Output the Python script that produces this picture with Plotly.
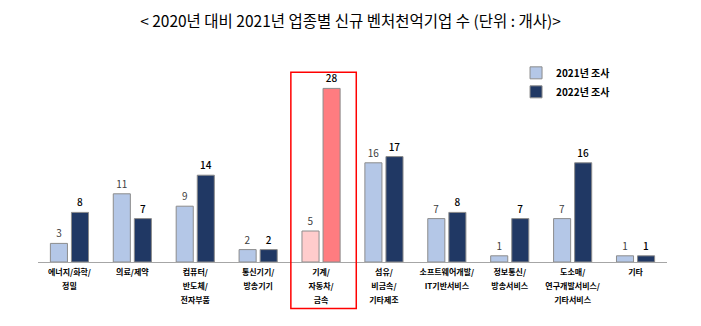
import plotly.graph_objects as go

categories = [
    "에너지/화학/<br>정밀",
    "의료/제약",
    "컴퓨터/<br>반도체/<br>전자부품",
    "통신기기/<br>방송기기",
    "기계/<br>자동차/<br>금속",
    "섬유/<br>비금속/<br>기타제조",
    "소프트웨어개발/<br>IT기반서비스",
    "정보통신/<br>방송서비스",
    "도소매/<br>연구개발서비스/<br>기타서비스",
    "기타",
]
series_2021 = [3, 11, 9, 2, 5, 16, 7, 1, 7, 1]
series_2022 = [8, 7, 14, 2, 28, 17, 8, 7, 16, 1]
highlight_index = 4

c21, c22 = "#B4C7E7", "#203864"
h21, h22 = "#FFCCCC", "#FF7C80"
colors21 = [h21 if i == highlight_index else c21 for i in range(len(categories))]
colors22 = [h22 if i == highlight_index else c22 for i in range(len(categories))]

FONT = "Noto Sans CJK KR"
xs = list(range(len(categories)))

def small(label):
    return "<br>".join(
        f"<span style='font-size:8px;font-weight:bold'>{part}</span>"
        for part in label.split("<br>")
    )

ticktext = [small(c) for c in categories]

fig = go.Figure()
fig.add_trace(go.Bar(
    x=xs, y=series_2021, name="2021년 조사",
    marker=dict(color=colors21, line=dict(color="#8C8C8C", width=1)),
    text=series_2021, textposition="outside", cliponaxis=False,
    textfont=dict(size=10, color="#404040", family=FONT),
))
fig.add_trace(go.Bar(
    x=xs, y=series_2022, name="2022년 조사",
    marker=dict(color=colors22, line=dict(color="#8C8C8C", width=1)),
    text=series_2022, textposition="outside", cliponaxis=False,
    textfont=dict(size=10, color="#000000", family=FONT, weight=500),
))

fig.add_shape(type="rect", xref="x", yref="paper",
              x0=highlight_index - 0.48, x1=highlight_index + 0.56,
              y0=-0.25, y1=1.02,
              line=dict(color="#FF0000", width=1.5), fillcolor="rgba(0,0,0,0)")

fig.update_layout(
    width=701, height=326,
    margin=dict(l=38, r=34, t=76, b=64),
    paper_bgcolor="white", plot_bgcolor="white",
    barmode="group", bargap=0.33, bargroupgap=0.19,
    title=dict(text="< 2020년 대비 2021년 업종별 신규 벤처천억기업 수 (단위 : 개사)>",
               x=0.5, xanchor="center", y=0.935, yanchor="middle",
               font=dict(size=15.5, color="#000000", family=FONT)),
    xaxis=dict(tickmode="array", tickvals=xs, ticktext=ticktext,
               range=[-0.5, len(categories) - 0.5],
               showline=True, linecolor="#A6A6A6", linewidth=1,
               ticks="", tickangle=0,
               tickfont=dict(size=10.4, color="#000000", family=FONT)),
    yaxis=dict(range=[0, 30], visible=False, showgrid=False, zeroline=False),
    legend=dict(x=0.76, y=1.095, xanchor="left", yanchor="top",
                font=dict(size=10, color="#000000", family=FONT, weight="bold"),
                itemwidth=30, tracegroupgap=0, bgcolor="rgba(0,0,0,0)"),
    showlegend=True,
)

fig.write_html("out.html")
